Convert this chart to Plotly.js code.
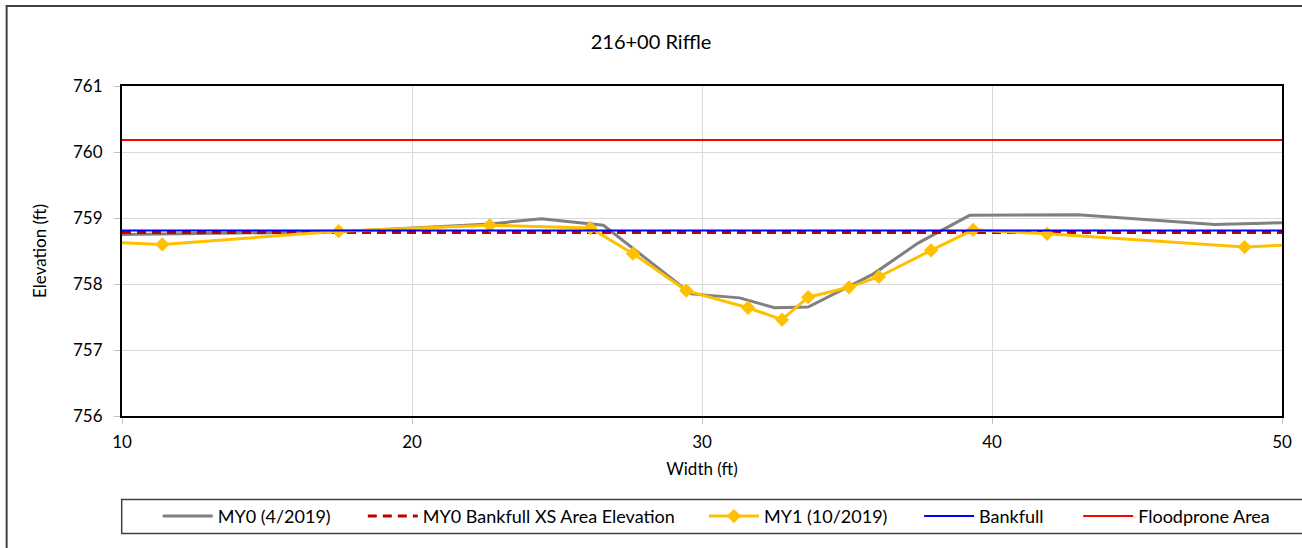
<!DOCTYPE html>
<html>
<head>
<meta charset="utf-8">
<script src="https://cdn.plot.ly/plotly-3.0.1.min.js"></script>
<style>
html,body{margin:0;padding:0;background:#fff;overflow:hidden;}
#chart{width:1302px;height:548px;}
</style>
</head>
<body>
<div id="chart"></div>
<script>
// MY0 (4/2019) survey
const my0X = [8, 17.5, 22.7, 24.46, 26.6, 29.63, 31.3, 32.5, 33.66, 35.9, 37.45, 39.23, 42.97, 47.68, 51];
const my0Y = [758.74, 758.79, 758.91, 758.99, 758.89, 757.85, 757.79, 757.64, 757.65, 758.15, 758.62, 759.04, 759.05, 758.90, 758.94];
// MY1 (10/2019) survey
const my1X = [8.5, 11.39, 17.47, 22.68, 26.15, 27.62, 29.46, 31.59, 32.76, 33.66, 35.07, 36.1, 37.9, 39.35, 41.9, 48.71, 51.5];
const my1Y = [758.65, 758.60, 758.80, 758.89, 758.85, 758.46, 757.90, 757.64, 757.46, 757.80, 757.95, 758.11, 758.51, 758.82, 758.76, 758.56, 758.62];
// Horizontal reference lines
const refX = [10, 50];
const bkfXsElev = [758.78, 758.78];
const bankfullElev = [758.81, 758.81];
const floodproneElev = [760.18, 760.18];
// Axis ticks
const xTicks = [10, 20, 30, 40, 50];
const yTicks = [756, 757, 758, 759, 760, 761];

const FONT = 'Lato, "Open Sans", sans-serif';

// pixel helpers for legend placement
const PL = 122.3, PW = 1159.4, PB = 415.7, PH = 329.7;
const px2x = p => (p - PL) / PW;
const px2y = p => (PB - p) / PH;

const traces = [
  {x: my0X, y: my0Y, mode: 'lines', name: 'MY0 (4/2019)',
   line: {color: '#808080', width: 3}, legend: 'legend'},
  {x: refX, y: bkfXsElev, mode: 'lines', name: 'MY0 Bankfull XS Area Elevation',
   line: {color: '#c00000', width: 3, dash: '9px,6px'}, legend: 'legend2'},
  {x: my1X, y: my1Y, mode: 'lines+markers', name: 'MY1 (10/2019)',
   line: {color: '#ffc000', width: 3}, marker: {symbol: 'diamond', size: 11, color: '#ffc000'}, legend: 'legend3'},
  {x: refX, y: bankfullElev, mode: 'lines', name: 'Bankfull',
   line: {color: '#0000ff', width: 2}, legend: 'legend4'},
  {x: refX, y: floodproneElev, mode: 'lines', name: 'Floodprone Area',
   line: {color: '#ff0000', width: 2}, legend: 'legend5'}
];

const legY = px2y(516);
function leg(px) {
  return {x: px2x(px - 5), xanchor: 'left', y: legY, yanchor: 'middle', orientation: 'h',
          itemwidth: 50,
          bgcolor: 'rgba(0,0,0,0)', borderwidth: 0, font: {family: FONT, size: 18, color: '#000'}};
}

const layout = {
  width: 1302, height: 548,
  margin: {l: 122, r: 20, t: 86, b: 132},
  paper_bgcolor: '#fff', plot_bgcolor: '#fff',
  font: {family: FONT, size: 17, color: '#000'},
  title: {text: '216+00 Riffle', font: {family: FONT, size: 20, color: '#000'},
          x: 0.5, xanchor: 'center', y: 1 - 42/548, yanchor: 'middle'},
  xaxis: {range: [10, 50], tickvals: xTicks, ticktext: xTicks.map(String),
          showgrid: true, gridcolor: '#d9d9d9', gridwidth: 1,
          showline: true, linecolor: '#000', linewidth: 2, mirror: true,
          ticks: 'outside', ticklen: 6, tickcolor: '#bfbfbf', ticklabelstandoff: 4,
          zeroline: false, tickfont: {family: FONT, size: 17},
          title: {text: 'Width (ft)', font: {family: FONT, size: 17}, standoff: 12}},
  yaxis: {range: [756, 761], tickvals: yTicks, ticktext: yTicks.map(String),
          showgrid: true, gridcolor: '#d9d9d9', gridwidth: 1,
          showline: true, linecolor: '#000', linewidth: 2, mirror: true,
          ticks: 'outside', ticklen: 6, tickcolor: '#bfbfbf', ticklabelstandoff: 8,
          zeroline: false, tickfont: {family: FONT, size: 17},
          title: {text: 'Elevation (ft)', font: {family: FONT, size: 17}, standoff: 22}},
  showlegend: true,
  legend: leg(163), legend2: leg(368), legend3: leg(709), legend4: leg(924), legend5: leg(1083),
  shapes: [
    {type: 'rect', xref: 'paper', yref: 'paper', x0: px2x(7), x1: px2x(1320), y0: px2y(6), y1: px2y(600),
     line: {color: '#404040', width: 2}, fillcolor: 'rgba(0,0,0,0)', layer: 'below'},
    {type: 'rect', xref: 'paper', yref: 'paper', x0: px2x(122), x1: px2x(1320), y0: px2y(499), y1: px2y(533),
     line: {color: '#404040', width: 1.5}, fillcolor: 'rgba(0,0,0,0)', layer: 'below'}
  ]
};

Plotly.newPlot('chart', traces, layout, {displayModeBar: false, staticPlot: true});
</script>
</body>
</html>
